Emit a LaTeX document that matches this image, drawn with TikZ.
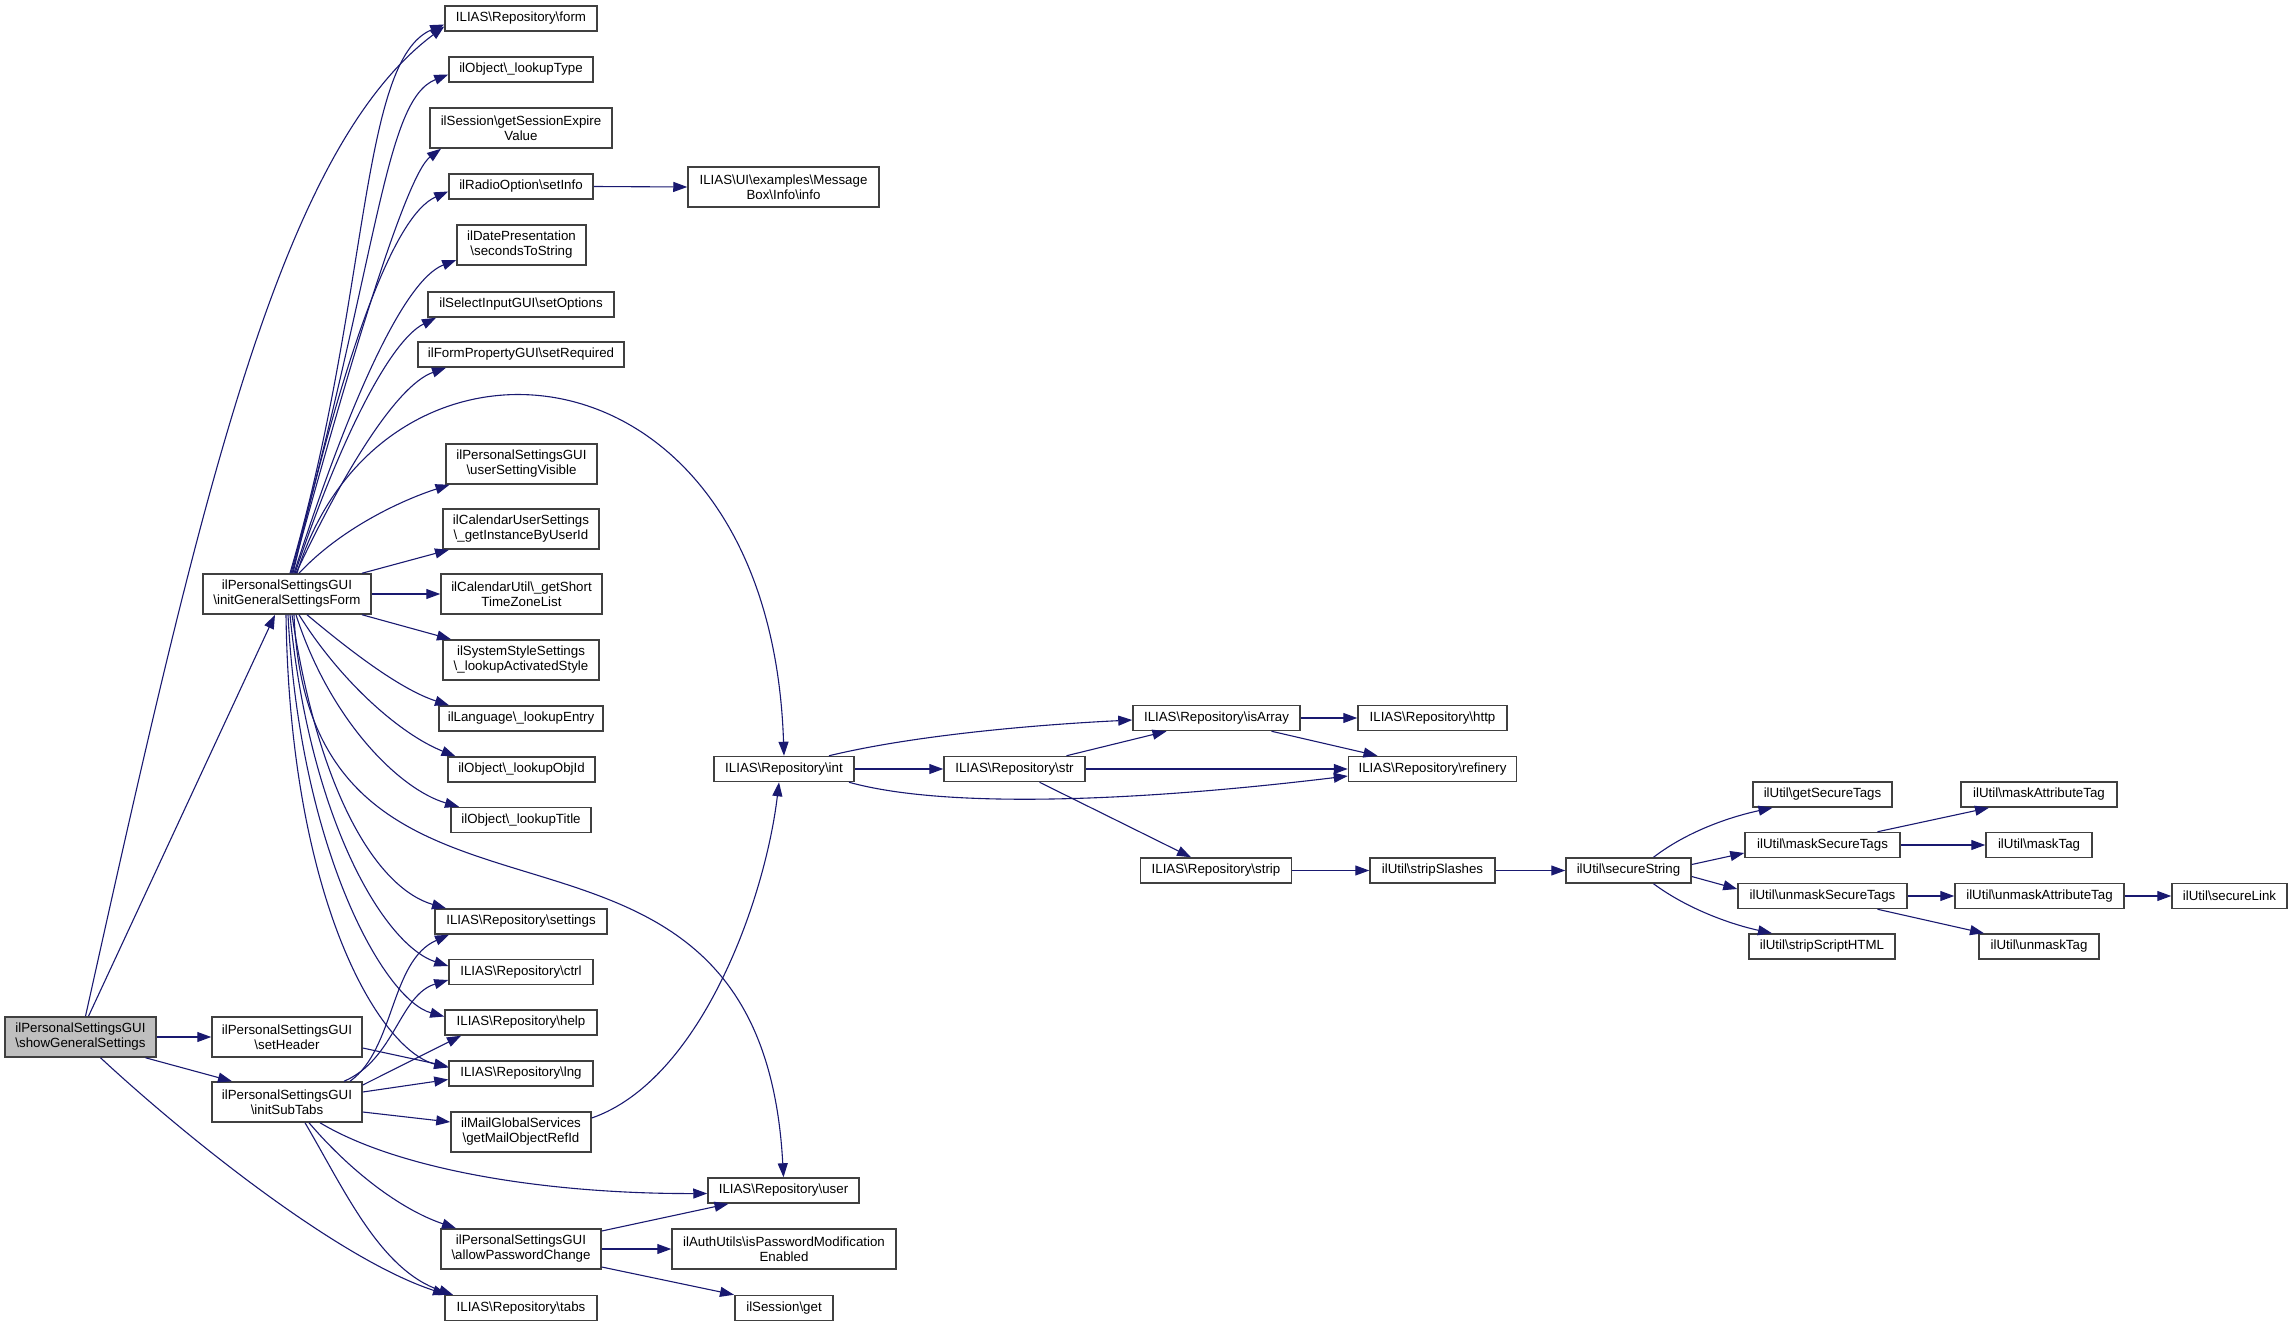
\documentclass[tikz,border=0pt]{standalone}
\usepackage{fontspec}
\setmainfont{Liberation Sans}
\usetikzlibrary{arrows.meta}
\definecolor{edgeblue}{RGB}{25,25,112}
\newcommand{\bsl}{\textbackslash}
\begin{document}
\begin{tikzpicture}[x=1pt,y=-1pt,
  fn/.style={draw=black!75, line width=1.5pt, fill=white, inner xsep=2pt, inner ysep=1pt,
    minimum height=25pt, align=center, font={\fontsize{13.3}{15}\selectfont}},
  fn2/.style={fn, minimum height=40pt},
  call/.style={draw=edgeblue, line width=1.1pt, -{Triangle[length=14pt,width=10pt]}}]
\useasboundingbox (0,0) rectangle (2292,1327);

\node[fn2, fill=black!25, minimum width=151pt] (sgs) at (80.5,1037) {ilPersonalSettingsGUI\\\bsl showGeneralSettings};
\node[fn2, minimum width=150pt] (setheader) at (287,1037) {ilPersonalSettingsGUI\\\bsl setHeader};
\node[fn2, minimum width=150pt] (initsubtabs) at (287,1102) {ilPersonalSettingsGUI\\\bsl initSubTabs};
\node[fn2, minimum width=168pt] (initform) at (287,594) {ilPersonalSettingsGUI\\\bsl initGeneralSettingsForm};

\node[fn, minimum width=152pt] (form) at (521,18.5) {ILIAS\bsl Repository\bsl form};
\node[fn, minimum width=144pt] (lookuptype) at (521,69.5) {ilObject\bsl\_lookupType};
\node[fn2, minimum width=182pt] (sessionexpire) at (521,128) {ilSession\bsl getSessionExpire\\Value};
\node[fn, minimum width=144pt] (setinfo) at (521,186.5) {ilRadioOption\bsl setInfo};
\node[fn2, minimum width=129pt] (secondstostring) at (521.5,245) {ilDatePresentation\\\bsl secondsToString};
\node[fn, minimum width=186pt] (setoptions) at (521,304.5) {ilSelectInputGUI\bsl setOptions};
\node[fn, minimum width=206pt] (setrequired) at (521,354.5) {ilFormPropertyGUI\bsl setRequired};
\node[fn2, minimum width=151pt] (usersetting) at (521.5,464) {ilPersonalSettingsGUI\\\bsl userSettingVisible};
\node[fn2, minimum width=156pt] (calsettings) at (521,529) {ilCalendarUserSettings\\\bsl\_getInstanceByUserId};
\node[fn2, minimum width=161pt] (timezones) at (521.5,594) {ilCalendarUtil\bsl\_getShort\\TimeZoneList};
\node[fn2, minimum width=156pt] (activestyle) at (521,660) {ilSystemStyleSettings\\\bsl\_lookupActivatedStyle};
\node[fn, minimum width=164pt] (lookupentry) at (521,718.5) {ilLanguage\bsl\_lookupEntry};
\node[fn, minimum width=147pt] (lookupobjid) at (521.5,769.5) {ilObject\bsl\_lookupObjId};
\node[fn, minimum width=140pt] (lookuptitle) at (521,820) {ilObject\bsl\_lookupTitle};
\node[fn, minimum width=172pt] (settings) at (521,921.5) {ILIAS\bsl Repository\bsl settings};
\node[fn, minimum width=144pt] (ctrl) at (521,972) {ILIAS\bsl Repository\bsl ctrl};
\node[fn, minimum width=152pt] (help) at (521,1022.5) {ILIAS\bsl Repository\bsl help};
\node[fn, minimum width=144pt] (lng) at (521,1073.5) {ILIAS\bsl Repository\bsl lng};
\node[fn2, minimum width=140pt] (mailrefid) at (521,1132) {ilMailGlobalServices\\\bsl getMailObjectRefId};
\node[fn2, minimum width=160pt] (allowpw) at (521,1249) {ilPersonalSettingsGUI\\\bsl allowPasswordChange};
\node[fn, minimum width=152pt] (tabs) at (521,1308) {ILIAS\bsl Repository\bsl tabs};

\node[fn2, minimum width=191pt] (msginfo) at (783.5,187) {ILIAS\bsl UI\bsl examples\bsl Message\\Box\bsl Info\bsl info};
\node[fn, minimum width=140pt] (int) at (784,769) {ILIAS\bsl Repository\bsl int};
\node[fn, minimum width=151pt] (user) at (783.5,1190.5) {ILIAS\bsl Repository\bsl user};
\node[fn2, minimum width=224pt] (pwenabled) at (784,1249) {ilAuthUtils\bsl isPasswordModification\\Enabled};
\node[fn, minimum width=98pt] (sessionget) at (784,1308) {ilSession\bsl get};

\node[fn, minimum width=141pt] (str) at (1014.5,769) {ILIAS\bsl Repository\bsl str};
\node[fn, minimum width=167pt] (isarray) at (1216.5,718) {ILIAS\bsl Repository\bsl isArray};
\node[fn, minimum width=151pt] (strip) at (1216,870.5) {ILIAS\bsl Repository\bsl strip};
\node[fn, minimum width=149pt] (http) at (1432.5,718) {ILIAS\bsl Repository\bsl http};
\node[fn, minimum width=168pt] (refinery) at (1432.5,769) {ILIAS\bsl Repository\bsl refinery};
\node[fn, minimum width=125pt] (stripslashes) at (1432.5,870.5) {ilUtil\bsl stripSlashes};
\node[fn, minimum width=125pt] (securestring) at (1628.5,870.5) {ilUtil\bsl secureString};
\node[fn, minimum width=139pt] (getsecuretags) at (1822.5,794.5) {ilUtil\bsl getSecureTags};
\node[fn, minimum width=155pt] (masksecuretags) at (1822.5,845) {ilUtil\bsl maskSecureTags};
\node[fn, minimum width=169pt] (unmasksecuretags) at (1822.5,896) {ilUtil\bsl unmaskSecureTags};
\node[fn, minimum width=146pt] (stripscripthtml) at (1822,946.5) {ilUtil\bsl stripScriptHTML};
\node[fn, minimum width=156pt] (maskattr) at (2039,794.5) {ilUtil\bsl maskAttributeTag};
\node[fn, minimum width=106pt] (masktag) at (2039,845) {ilUtil\bsl maskTag};
\node[fn, minimum width=169pt] (unmaskattr) at (2039.5,896) {ilUtil\bsl unmaskAttributeTag};
\node[fn, minimum width=120pt] (unmasktag) at (2039,946.5) {ilUtil\bsl unmaskTag};
\node[fn, minimum width=115pt] (securelink) at (2229.5,896) {ilUtil\bsl secureLink};

\draw[call] (sgs.east) -- (setheader.west);
\draw[call] ([xshift=65pt]sgs.south) -- ([xshift=-55pt]initsubtabs.north);
\draw[call] ([xshift=8pt]sgs.north) -- ([xshift=-12pt]initform.south);
\draw[call] ([xshift=5pt]sgs.north) .. controls +(115,-517) and +(-165,123.5) .. ([yshift=-8pt]form.west);
\draw[call] ([xshift=20pt]sgs.south) .. controls +(89.5,83) and +(-107,-35) .. ([xshift=-74pt]tabs.north);

\draw[call] ([xshift=3pt]initform.north) .. controls +(80,-274) and +(-85,35.5) .. ([yshift=-6pt]form.west);
\draw[call] ([xshift=4pt]initform.north) .. controls +(89,-324) and +(-64,25.5) .. ([yshift=-5pt]lookuptype.west);
\draw[call] ([xshift=5pt]initform.north) .. controls +(53,-194) and +(-36,27) .. ([xshift=-80pt]sessionexpire.south);
\draw[call] ([xshift=6pt]initform.north) .. controls +(52,-224) and +(-54,23.5) .. ([yshift=-5pt]setinfo.west);
\draw[call] ([xshift=7pt]initform.north) .. controls +(56,-174) and +(-52,20) .. ([yshift=-15pt]secondstostring.west);
\draw[call] ([xshift=8pt]initform.north) .. controls +(45,-134) and +(-46,23) .. ([xshift=-85pt]setoptions.south);
\draw[call] ([xshift=9pt]initform.north) .. controls +(44,-94) and +(-51,18) .. ([xshift=-75pt]setrequired.south);
\draw[call] ([xshift=10pt]initform.north) .. controls +(83,-274) and +(-14,-427) .. (int.north);
\draw[call] ([xshift=12pt]initform.north) .. controls +(41,-44) and +(-49.5,16) .. ([xshift=-72pt]usersetting.south);
\draw[call] ([xshift=75pt]initform.north) -- ([xshift=-72pt]calsettings.south);
\draw[call] (initform.east) -- (timezones.west);
\draw[call] ([xshift=75pt]initform.south) -- ([xshift=-70pt]activestyle.north);
\draw[call] ([xshift=20pt]initform.south) .. controls +(43,36) and +(-49,-16) .. ([xshift=-72pt]lookupentry.north);
\draw[call] ([xshift=12pt]initform.south) .. controls +(41,66) and +(-55.5,-22) .. ([xshift=-66pt]lookupobjid.north);
\draw[call] ([xshift=9pt]initform.south) .. controls +(34,106) and +(-59,-17) .. ([xshift=-62pt]lookuptitle.north);
\draw[call] ([xshift=7pt]initform.south) .. controls +(16,386) and +(-23.5,-438) .. (user.north);
\draw[call] ([xshift=5pt]initform.south) .. controls +(28,186) and +(-66,-19) .. ([xshift=-75pt]settings.north);
\draw[call] ([xshift=3pt]initform.south) .. controls +(20,206) and +(-64,-21) .. ([yshift=6pt]ctrl.west);
\draw[call] ([xshift=1pt]initform.south) .. controls +(12,236) and +(-60,-16.5) .. ([yshift=6pt]help.west);
\draw[call] ([xshift=-1pt]initform.south) .. controls +(4,286) and +(-69,-17.5) .. ([yshift=6pt]lng.west);

\draw[call] ([yshift=-11pt]setheader.east) -- ([yshift=7pt]lng.west);

\draw[call] ([xshift=63pt]initsubtabs.north) .. controls +(45,-32) and +(-59,26) .. ([xshift=-72pt]settings.south);
\draw[call] ([xshift=57pt]initsubtabs.north) .. controls +(51,-22) and +(-49,15) .. ([yshift=-8pt]ctrl.west);
\draw[call] ([yshift=17pt]initsubtabs.east) -- ([xshift=-60pt]help.south);
\draw[call] ([yshift=10pt]initsubtabs.east) -- ([yshift=-6pt]lng.west);
\draw[call] ([yshift=-10pt]initsubtabs.east) -- ([yshift=10pt]mailrefid.west);
\draw[call] ([xshift=33pt]initsubtabs.south) .. controls +(80,48) and +(-158,0.5) .. ([yshift=-3pt]user.west);
\draw[call] ([xshift=22pt]initsubtabs.south) .. controls +(41,48) and +(-56,-19) .. ([xshift=-65pt]allowpw.north);
\draw[call] ([xshift=18pt]initsubtabs.south) .. controls +(40,68) and +(-73,-25) .. ([xshift=-68pt]tabs.north);

\draw[call] (setinfo.east) -- (msginfo.west);
\draw[call] ([yshift=14pt]mailrefid.east) .. controls +(109,-38) and +(-14,118) .. ([xshift=-5pt]int.south);
\draw[call] ([yshift=18pt]allowpw.east) -- ([xshift=-55pt]user.south);
\draw[call] (allowpw.east) -- (pwenabled.west);
\draw[call] ([yshift=-18pt]allowpw.east) -- ([xshift=-50pt]sessionget.north);

\draw[call] ([xshift=45pt]int.north) .. controls +(91,-22) and +(-83,4) .. ([yshift=-2pt]isarray.west);
\draw[call] (int.east) -- (str.west);
\draw[call] ([xshift=65pt]int.south) .. controls +(101,28) and +(-198,24) .. ([yshift=-7pt]refinery.west);
\draw[call] ([xshift=52pt]str.north) -- ([xshift=-50pt]isarray.south);
\draw[call] (str.east) -- (refinery.west);
\draw[call] ([xshift=25pt]str.south) -- ([xshift=-25pt]strip.north);
\draw[call] (isarray.east) -- (http.west);
\draw[call] ([xshift=55pt]isarray.south) -- ([xshift=-55pt]refinery.north);
\draw[call] (strip.east) -- (stripslashes.west);
\draw[call] (stripslashes.east) -- (securestring.west);

\draw[call] ([xshift=25pt]securestring.north) .. controls +(36.5,-28) and +(-37.5,8) .. ([xshift=-50pt]getsecuretags.south);
\draw[call] ([yshift=6pt]securestring.east) -- ([yshift=-8pt]masksecuretags.west);
\draw[call] ([yshift=-6pt]securestring.east) -- ([yshift=7pt]unmasksecuretags.west);
\draw[call] ([xshift=25pt]securestring.south) .. controls +(36.5,27) and +(-37,-8) .. ([xshift=-50pt]stripscripthtml.north);
\draw[call] ([xshift=55pt]masksecuretags.north) -- ([xshift=-50pt]maskattr.south);
\draw[call] (masksecuretags.east) -- (masktag.west);
\draw[call] (unmasksecuretags.east) -- (unmaskattr.west);
\draw[call] ([xshift=55pt]unmasksecuretags.south) -- ([xshift=-55pt]unmasktag.north);
\draw[call] (unmaskattr.east) -- (securelink.west);
\end{tikzpicture}
\end{document}
